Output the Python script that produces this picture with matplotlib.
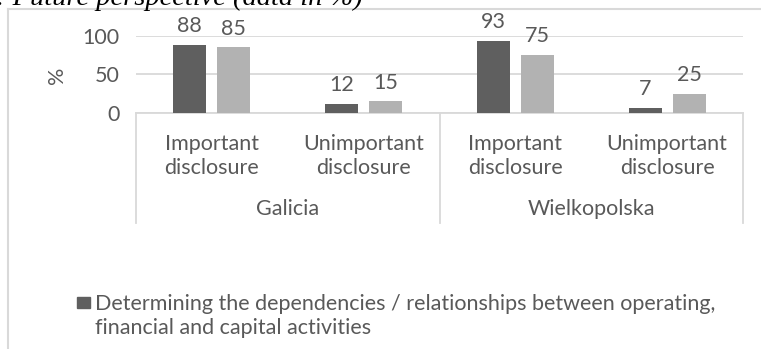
import matplotlib.pyplot as plt
from matplotlib.lines import Line2D
from matplotlib.patches import Rectangle
import numpy as np

# data
regions = ["Galicia", "Wielkopolska"]
categories = ["Important\ndisclosure", "Unimportant\ndisclosure",
              "Important\ndisclosure", "Unimportant\ndisclosure"]
series_a = [88, 12, 93, 7]    # Determining the dependencies / relationships ...
series_b = [85, 15, 75, 25]   # second series (legend entry cut off)
legend_label = ("Determining the dependencies / relationships between operating,\n"
                "financial and capital activities")
yticks = [0, 50, 100]

W, H = 761, 349
DARK = "#5f5f5f"
LIGHT = "#b2b2b2"
TXT = "#595959"
GRID = "#d9d9d9"
FONT = "Lato"
FS = 15.5

plt.rcParams["font.family"] = FONT


def fx(px):
    return px / W


def fy(py):
    return 1 - py / H


fig = plt.figure(figsize=(W / 100, H / 100), dpi=100)

# plot area
x0, x1, ytop, ybot = 136, 743, 35.7, 113
ax = fig.add_axes([fx(x0), fy(ybot), fx(x1 - x0), (ybot - ytop) / H])
x = np.arange(len(categories))
off, bw = 0.145, 0.217
bars_a = ax.bar(x - off, series_a, bw, color=DARK, zorder=3)
bars_b = ax.bar(x + off, series_b, bw, color=LIGHT, zorder=3)
ax.set_xlim(-0.5, len(categories) - 0.5)
ax.set_ylim(0, 100)
ax.set_yticks(yticks)
ax.set_yticklabels([str(v) for v in yticks], fontsize=FS, color=TXT)
ax.tick_params(axis="y", length=0, pad=12)
ax.set_xticks([])
ax.grid(axis="y", color=GRID, linewidth=1.3, zorder=0)
for s in ["top", "right", "left"]:
    ax.spines[s].set_visible(False)
ax.spines["bottom"].set_color(GRID)
ax.spines["bottom"].set_linewidth(1.3)
ax.set_facecolor("none")

for bars, vals in [(bars_a, series_a), (bars_b, series_b)]:
    for b, v in zip(bars, vals):
        ax.annotate(str(v), (b.get_x() + b.get_width() / 2, v),
                    xytext=(0, 13.5), textcoords="offset points",
                    ha="center", va="center", fontsize=FS, color=TXT,
                    annotation_clip=False)

# category labels (multi-level axis)
trans = ax.get_xaxis_transform()
for i, c in enumerate(categories):
    ax.text(i, -(156 - ybot) / (ybot - ytop), c, transform=trans,
            ha="center", va="center", fontsize=FS, color=TXT, linespacing=1.3)
for g, r in enumerate(regions):
    ax.text(2 * g + 0.5, -(209 - ybot) / (ybot - ytop), r, transform=trans,
            ha="center", va="center", fontsize=FS, color=TXT)
for xs in [-0.5, 1.5, 3.5]:
    ax.plot([xs, xs], [0, -(223 - ybot) / (ybot - ytop)], transform=trans,
            color=GRID, linewidth=1.3, clip_on=False)

# y label
fig.text(fx(57), fy(75), "%", rotation=90, ha="center", va="center",
         fontsize=FS, color=TXT)

# outer chart frame
fig.add_artist(Line2D([fx(8), fx(8)], [fy(9), 0], color=GRID, linewidth=1.5))
fig.add_artist(Line2D([fx(8), 1], [fy(9), fy(9)], color=GRID, linewidth=1.5))

# legend (first entry only visible)
fig.add_artist(Rectangle((fx(77), fy(308)), fx(13), 11 / H,
                         transform=fig.transFigure, color=DARK))
fig.text(fx(95), fy(315.5), legend_label, ha="left", va="center",
         fontsize=FS, color=TXT, linespacing=1.25)

# caption (cut off at top, as in the source image)
fig.text(fx(363), fy(5), ": Future perspective (data in %)", ha="right",
         va="baseline", fontsize=20.5, style="italic", family="Liberation Serif",
         color="black")

fig.savefig("out.png", dpi=100)
